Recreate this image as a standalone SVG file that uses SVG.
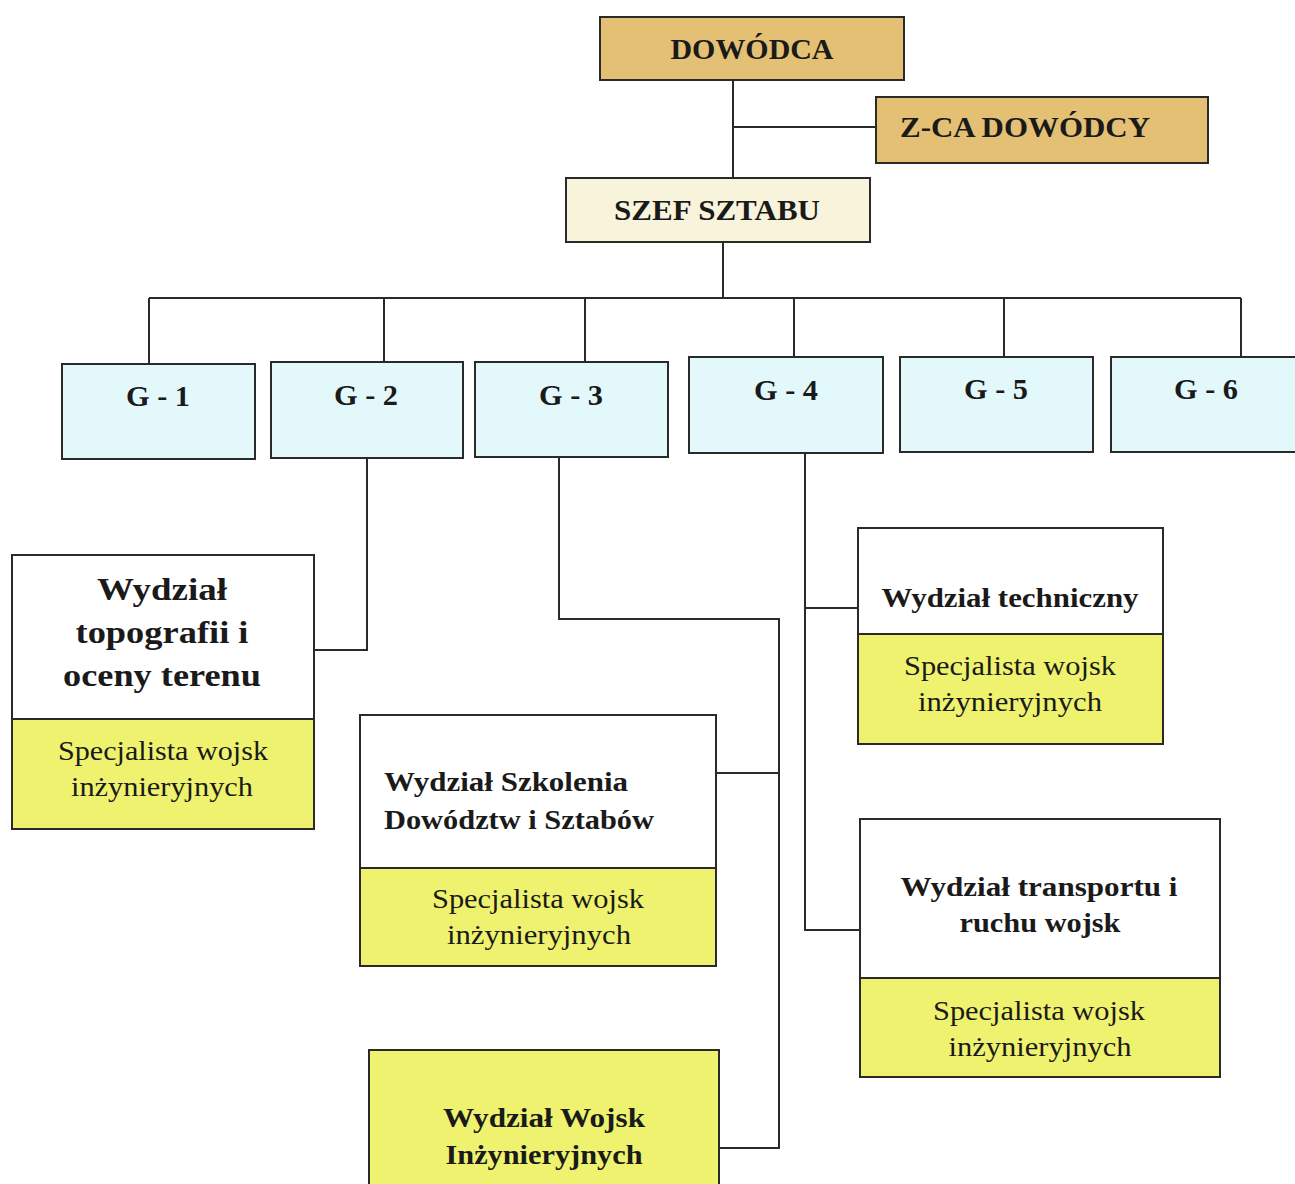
<svg xmlns="http://www.w3.org/2000/svg" width="1295" height="1184" viewBox="0 0 1295 1184">
  <style>
    .box { stroke: #2a2a2a; stroke-width: 2; }
    .cmd { fill: #e4c074; }
    .cos { fill: #f8f4dc; }
    .g { fill: #e3f8fb; }
    .w { fill: #ffffff; }
    .y { fill: #eef26e; }
    .t { font-family: "Liberation Serif", "Times New Roman", serif; fill: #1a1a1a; text-anchor: middle; }
    .b { font-weight: bold; }
    .l { text-anchor: start; }
    .conn { fill: none; stroke: #2a2a2a; stroke-width: 2; }
  </style>
  <rect width="1295" height="1184" fill="#ffffff"/>

  <g id="connectors">
    <polyline class="conn" points="733,80 733,178"/>
    <polyline class="conn" points="733,127 876,127"/>
    <polyline class="conn" points="723,242 723,298"/>
    <polyline class="conn" points="149,298 1241,298"/>
    <polyline class="conn" points="149,298 149,364"/>
    <polyline class="conn" points="384,298 384,362"/>
    <polyline class="conn" points="585,298 585,362"/>
    <polyline class="conn" points="794,298 794,357"/>
    <polyline class="conn" points="1004,298 1004,357"/>
    <polyline class="conn" points="1241,298 1241,357"/>
    <polyline class="conn" points="367,458 367,650 314,650"/>
    <polyline class="conn" points="559,457 559,619 779,619 779,1148 719,1148"/>
    <polyline class="conn" points="716,773 779,773"/>
    <polyline class="conn" points="805,453 805,930 860,930"/>
    <polyline class="conn" points="805,608 858,608"/>
  </g>

  <g id="dowodca">
    <rect class="box cmd" x="600" y="17" width="304" height="63"/>
    <text class="t b" x="752" y="59" font-size="29" textLength="163" lengthAdjust="spacingAndGlyphs">DOWÓDCA</text>
  </g>

  <g id="zca-dowodcy">
    <rect class="box cmd" x="876" y="97" width="332" height="66"/>
    <text class="t b" x="1025" y="137" font-size="29" textLength="250" lengthAdjust="spacingAndGlyphs">Z-CA DOWÓDCY</text>
  </g>

  <g id="szef-sztabu">
    <rect class="box cos" x="566" y="178" width="304" height="64"/>
    <text class="t b" x="717" y="220" font-size="29" textLength="206" lengthAdjust="spacingAndGlyphs">SZEF SZTABU</text>
  </g>

  <g id="g1">
    <rect class="box g" x="62" y="364" width="193" height="95"/>
    <text class="t b" x="158" y="406" font-size="30" textLength="64" lengthAdjust="spacingAndGlyphs">G - 1</text>
  </g>
  <g id="g2">
    <rect class="box g" x="271" y="362" width="192" height="96"/>
    <text class="t b" x="366" y="405" font-size="30" textLength="64" lengthAdjust="spacingAndGlyphs">G - 2</text>
  </g>
  <g id="g3">
    <rect class="box g" x="475" y="362" width="193" height="95"/>
    <text class="t b" x="571" y="405" font-size="30" textLength="64" lengthAdjust="spacingAndGlyphs">G - 3</text>
  </g>
  <g id="g4">
    <rect class="box g" x="689" y="357" width="194" height="96"/>
    <text class="t b" x="786" y="400" font-size="30" textLength="64" lengthAdjust="spacingAndGlyphs">G - 4</text>
  </g>
  <g id="g5">
    <rect class="box g" x="900" y="357" width="193" height="95"/>
    <text class="t b" x="996" y="399" font-size="30" textLength="64" lengthAdjust="spacingAndGlyphs">G - 5</text>
  </g>
  <g id="g6">
    <rect class="box g" x="1111" y="357" width="190" height="95"/>
    <text class="t b" x="1206" y="399" font-size="30" textLength="64" lengthAdjust="spacingAndGlyphs">G - 6</text>
  </g>

  <g id="wydzial-topografii">
    <rect class="box w" x="12" y="555" width="302" height="164"/>
    <rect class="box y" x="12" y="719" width="302" height="110"/>
    <text class="t b" x="162" y="600" font-size="31" textLength="130" lengthAdjust="spacingAndGlyphs">Wydział</text>
    <text class="t b" x="162" y="643" font-size="31" textLength="173" lengthAdjust="spacingAndGlyphs">topografii i</text>
    <text class="t b" x="162" y="686" font-size="31" textLength="198" lengthAdjust="spacingAndGlyphs">oceny terenu</text>
    <text class="t" x="163" y="760" font-size="27" textLength="210" lengthAdjust="spacingAndGlyphs">Specjalista wojsk</text>
    <text class="t" x="162" y="796" font-size="27" textLength="182" lengthAdjust="spacingAndGlyphs">inżynieryjnych</text>
  </g>

  <g id="wydzial-szkolenia">
    <rect class="box w" x="360" y="715" width="356" height="153"/>
    <rect class="box y" x="360" y="868" width="356" height="98"/>
    <text class="t b l" x="384" y="791" font-size="27" textLength="244" lengthAdjust="spacingAndGlyphs">Wydział Szkolenia</text>
    <text class="t b l" x="384" y="829" font-size="27" textLength="270" lengthAdjust="spacingAndGlyphs">Dowództw i Sztabów</text>
    <text class="t" x="538" y="908" font-size="27" textLength="212" lengthAdjust="spacingAndGlyphs">Specjalista wojsk</text>
    <text class="t" x="539" y="944" font-size="27" textLength="184" lengthAdjust="spacingAndGlyphs">inżynieryjnych</text>
  </g>

  <g id="wydzial-wojsk-inzynieryjnych">
    <rect class="box y" x="369" y="1050" width="350" height="140"/>
    <text class="t b" x="544" y="1127" font-size="27" textLength="202" lengthAdjust="spacingAndGlyphs">Wydział Wojsk</text>
    <text class="t b" x="544" y="1164" font-size="27" textLength="197" lengthAdjust="spacingAndGlyphs">Inżynieryjnych</text>
  </g>

  <g id="wydzial-techniczny">
    <rect class="box w" x="858" y="528" width="305" height="106"/>
    <rect class="box y" x="858" y="634" width="305" height="110"/>
    <text class="t b" x="1010" y="607" font-size="27" textLength="257" lengthAdjust="spacingAndGlyphs">Wydział techniczny</text>
    <text class="t" x="1010" y="675" font-size="27" textLength="212" lengthAdjust="spacingAndGlyphs">Specjalista wojsk</text>
    <text class="t" x="1010" y="711" font-size="27" textLength="184" lengthAdjust="spacingAndGlyphs">inżynieryjnych</text>
  </g>

  <g id="wydzial-transportu">
    <rect class="box w" x="860" y="819" width="360" height="159"/>
    <rect class="box y" x="860" y="978" width="360" height="99"/>
    <text class="t b" x="1039" y="896" font-size="27" textLength="277" lengthAdjust="spacingAndGlyphs">Wydział transportu i</text>
    <text class="t b" x="1040" y="932" font-size="27" textLength="161" lengthAdjust="spacingAndGlyphs">ruchu wojsk</text>
    <text class="t" x="1039" y="1020" font-size="27" textLength="212" lengthAdjust="spacingAndGlyphs">Specjalista wojsk</text>
    <text class="t" x="1040" y="1056" font-size="27" textLength="183" lengthAdjust="spacingAndGlyphs">inżynieryjnych</text>
  </g>
</svg>
